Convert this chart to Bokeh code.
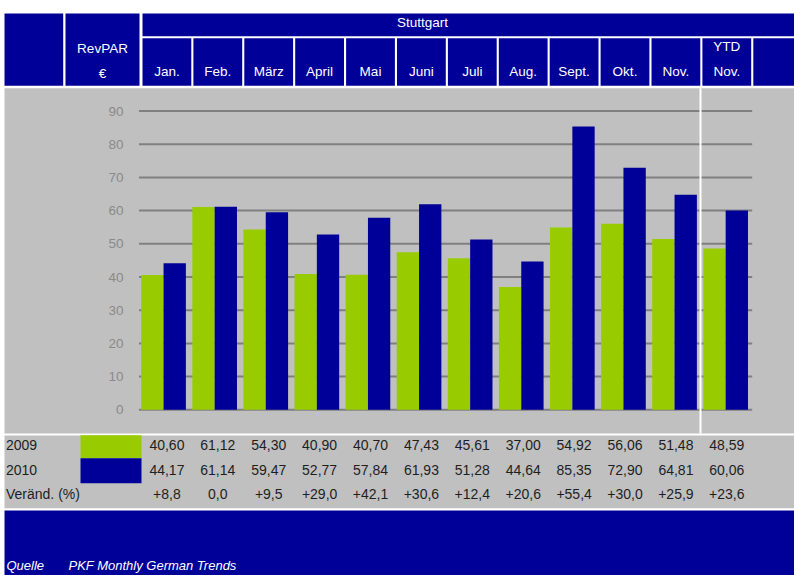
from bokeh.plotting import figure
from bokeh.models import Range1d
from bokeh.embed import file_html
from bokeh.resources import INLINE
from bokeh.core.properties import value

# ---------------- data ----------------
city = "Stuttgart"
measure = ["RevPAR", "€"]
months = ["Jan.", "Feb.", "März", "April", "Mai", "Juni", "Juli", "Aug.", "Sept.", "Okt.", "Nov.", "Nov."]
months_top = ["", "", "", "", "", "", "", "", "", "", "", "YTD"]
v2009 = [40.60, 61.12, 54.30, 40.90, 40.70, 47.43, 45.61, 37.00, 54.92, 56.06, 51.48, 48.59]
v2010 = [44.17, 61.14, 59.47, 52.77, 57.84, 61.93, 51.28, 44.64, 85.35, 72.90, 64.81, 60.06]
change = [8.8, 0.0, 9.5, 29.0, 42.1, 30.6, 12.4, 20.6, 55.4, 30.0, 25.9, 23.6]
y_ticks = [0, 10, 20, 30, 40, 50, 60, 70, 80, 90]
row_labels = ["2009", "2010", "Veränd. (%)"]
source_label = "Quelle"
source_text = "PKF Monthly German Trends"

# ---------------- styling / layout ----------------
W, H = 794, 575
GREEN = "#99cc00"
BLUE = "#000099"
GREY = "#c0c0c0"
GRID = "#808080"
FONT = value("Liberation Sans")

PX_LEFT = 138.5      # pixel of left edge of plot area
PITCH = 51.1         # pixels per category
ZERO_Y = 409.3       # pixel of value 0
PX_PER_UNIT = 3.32   # pixels per value unit

n = len(months)
idx = list(range(n))

p = figure(width=W, height=H, output_backend="svg", toolbar_location=None,
           x_axis_location=None, y_axis_location=None,
           x_range=Range1d(-0.5 - PX_LEFT / PITCH, -0.5 + (W - PX_LEFT) / PITCH),
           y_range=Range1d(-(H - ZERO_Y) / PX_PER_UNIT, ZERO_Y / PX_PER_UNIT),
           min_border=0, min_border_left=0, min_border_right=0,
           min_border_top=0, min_border_bottom=0)
p.grid.visible = False
p.outline_line_color = None
p.background_fill_color = "white"
p.border_fill_color = "white"
p.extra_x_ranges = {"px": Range1d(0, W)}
p.extra_y_ranges = {"px": Range1d(H, 0)}

PX = dict(x_range_name="px", y_range_name="px")

# ---- header blocks ----
p.quad(left=[4, 65], right=[62.7, 139], top=[13, 13], bottom=[85.3, 85.3],
       fill_color=BLUE, line_color=None, **PX)
p.quad(left=[142], right=[W], top=[13], bottom=[35.7], fill_color=BLUE, line_color=None, **PX)
cell_pitch = 50.9
cell_w = 48.8
lefts = [142 + cell_pitch * i for i in range(n + 1)]
rights = [l + cell_w for l in lefts[:-1]] + [W]
p.quad(left=lefts, right=rights, top=[37.7] * (n + 1), bottom=[85.3] * (n + 1),
       fill_color=BLUE, line_color=None, **PX)
centers = [l + cell_w / 2 for l in lefts[:-1]]

hdr_style = dict(text_font=FONT, text_font_size="13.5px", text_color="white",
                 text_align="center", text_baseline="middle", **PX)
p.text(x=[(142 + lefts[n - 1]) / 2], y=[22], text=[city], **hdr_style)
p.text(x=[102, 102], y=[48, 72.7], text=measure, **hdr_style)
p.text(x=centers, y=[70.7] * n, text=months, **hdr_style)
p.text(x=centers, y=[45.7] * n, text=months_top, **hdr_style)

# ---- chart area ----
p.quad(left=[4], right=[W], top=[87.7], bottom=[433], fill_color=GREY, line_color=None, **PX)
p.segment(x0=[-0.5] * len(y_ticks), x1=[n - 0.5] * len(y_ticks), y0=y_ticks, y1=y_ticks,
          line_color=GRID, line_width=2)
p.text(x=[123] * len(y_ticks), y=y_ticks, text=[str(t) for t in y_ticks],
       x_range_name="px", text_font=FONT, text_font_size="13.5px", text_color="#8a8a8a",
       text_align="right", text_baseline="middle")

bw = 0.437
p.vbar(x=[i - 0.238 for i in idx], top=v2009, bottom=0, width=bw, fill_color=GREEN, line_color=None)
p.vbar(x=[i + 0.199 for i in idx], top=v2010, bottom=0, width=bw, fill_color=BLUE, line_color=None)

# YTD separator
p.segment(x0=[700], x1=[700], y0=[87.7], y1=[433], line_color="white", line_width=2, **PX)

# ---- table ----
p.quad(left=[4], right=[W], top=[435], bottom=[507.7], fill_color=GREY, line_color=None, **PX)
p.quad(left=[80, 80], right=[141, 141], top=[434.7, 457.7], bottom=[457.7, 482.7],
       fill_color=[GREEN, BLUE], line_color=None, **PX)
row_y = [444, 469.3, 493.3]
tbl_style = dict(text_font=FONT, text_font_size="14px", text_color="#1e1e1e",
                 text_baseline="middle", **PX)
p.text(x=[5.5] * 3, y=row_y, text=row_labels, text_align="left", **tbl_style)


def fmt_val(v):
    return f"{v:.2f}".replace(".", ",")


def fmt_chg(v):
    s = f"{abs(v):.1f}".replace(".", ",")
    if v > 0:
        return "+" + s
    if v < 0:
        return "-" + s
    return s


p.text(x=centers, y=[row_y[0]] * n, text=[fmt_val(v) for v in v2009], text_align="center", **tbl_style)
p.text(x=centers, y=[row_y[1]] * n, text=[fmt_val(v) for v in v2010], text_align="center", **tbl_style)
p.text(x=centers, y=[row_y[2]] * n, text=[fmt_chg(v) for v in change], text_align="center", **tbl_style)

# ---- footer ----
p.quad(left=[4], right=[W], top=[510], bottom=[H], fill_color=BLUE, line_color=None, **PX)
p.text(x=[6, 68], y=[565, 565], text=[source_label, source_text], text_font=FONT,
       text_font_size="13px", text_font_style="italic", text_color="white",
       text_align="left", text_baseline="alphabetic", **PX)

open("out.html", "w").write(file_html(p, INLINE))
